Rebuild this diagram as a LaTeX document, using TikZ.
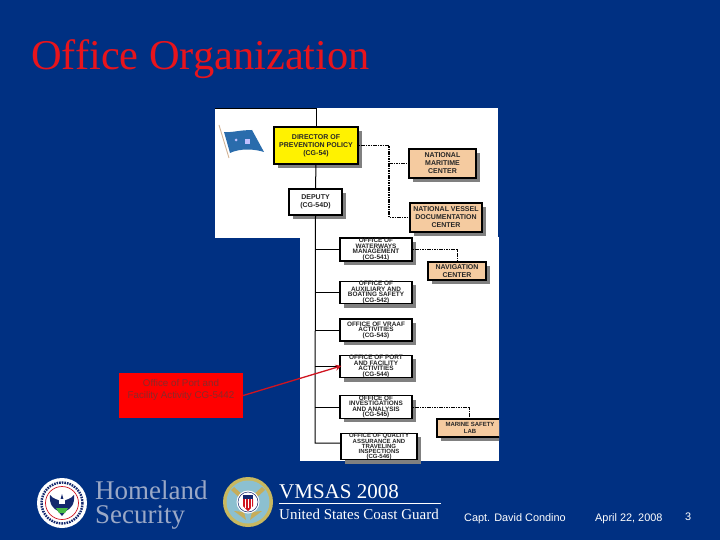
\documentclass[tikz,border=0pt]{standalone}
\usepackage{fontspec}
\setmainfont{Liberation Serif}
\setsansfont{Liberation Sans}
\usetikzlibrary{shadows,arrows.meta}
\definecolor{bgblue}{HTML}{003082}
\definecolor{tanbox}{HTML}{F5CBA0}
\definecolor{titlered}{HTML}{E8141C}
\definecolor{hsgrey}{HTML}{9AA8C6}
\definecolor{darkred}{HTML}{D01420}
\definecolor{seal}{HTML}{14286E}
\definecolor{calltext}{HTML}{8A2A2A}
\definecolor{flagblue}{HTML}{2A6CAC}
\definecolor{gold}{HTML}{C8B860}
\definecolor{cgblue}{HTML}{8CC0D0}
\tikzset{
  orgbox/.style={draw=black,line width=1.1pt,fill=white,align=center,inner sep=0pt,
    font=\sffamily\bfseries\fontsize{6.4}{5.5}\selectfont,text=black!85,
    drop shadow={shadow xshift=4pt,shadow yshift=-4pt,fill=black!50,opacity=1}},
  bigbox/.style={orgbox,font=\sffamily\bfseries\fontsize{7}{8}\selectfont},
  tan/.style={bigbox,fill=tanbox},
  solidline/.style={draw=black,line width=1pt},
  dotline/.style={draw=black,line width=1.3pt,dash pattern=on 1.6pt off 0.8pt},
  thinDot/.style={draw=black,line width=.8pt,dash pattern=on 1.6pt off 0.8pt},
  footer/.style={anchor=base west,inner sep=0pt,text=white},
  sfoot/.style={footer,font=\sffamily\fontsize{10.9}{12}\selectfont},
}
\begin{document}
\begin{tikzpicture}[x=1pt,y=-1pt]
\fill[bgblue] (0,0) rectangle (720,540);
\useasboundingbox (0,0) rectangle (720,540);
% white image panels
\fill[white] (215,108) rectangle (498,238);
\fill[white] (300,237) rectangle (499,461);
% title
\node[anchor=base west,inner sep=0pt,text=titlered,font=\fontsize{42.4}{42}\selectfont] (title) at (31,70) {Office Organization};
% flag
\draw[draw=tanbox!70!gray,line width=.9pt] (219,125) -- (229,158);
\fill[flagblue] (224,132) .. controls (230,133) and (240,130) .. (252,130) -- (264,152) .. controls (255,149) and (240,148) .. (230,153) -- cycle;
\fill[white!75!blue] (245,139) rectangle (250,144);
\fill[white!75!blue] (236,140) circle (1.5);
% nodes: top chart
\coordinate (topleft) at (215,109);
\coordinate (topjoin) at (316,109);
\node[bigbox,fill=yellow,minimum width=84pt,minimum height=37pt] (director) at (316,145.5) {DIRECTOR OF\\PREVENTION POLICY\\(CG-54)};
\node[bigbox,minimum width=53pt,minimum height=26pt] (deputy) at (315.5,202) {DEPUTY\\(CG-54D)};
\node[tan,minimum width=67pt,minimum height=29pt] (nmc) at (442.5,163.5) {NATIONAL\\MARITIME\\CENTER};
\node[tan,minimum width=72pt,minimum height=29pt] (nvdc) at (446,217.5) {NATIONAL VESSEL\\DOCUMENTATION\\CENTER};
% lower chart
\node[orgbox,minimum width=72pt,minimum height=23pt] (water) at (376,249.5) {OFFICE OF\\WATERWAYS\\MANAGEMENT\\(CG-541)};
\node[tan,minimum width=58pt,minimum height=18pt] (nav) at (457,271) {NAVIGATION\\CENTER};
\node[orgbox,minimum width=72pt,minimum height=21pt] (aux) at (376,292.5) {OFFICE OF\\AUXILIARY AND\\BOATING SAFETY\\(CG-542)};
\node[orgbox,minimum width=72pt,minimum height=22pt] (vpaaf) at (376,330) {OFFICE OF VRAAF\\ACTIVITIES\\(CG-543)};
\node[orgbox,minimum width=72pt,minimum height=21pt] (port) at (376,366.5) {OFFICE OF PORT\\AND FACILITY\\ACTIVITIES\\(CG-544)};
\node[orgbox,minimum width=72pt,minimum height=22pt] (inv) at (376,407) {OFFICE OF\\INVESTIGATIONS\\AND ANALYSIS\\(CG-545)};
\node[orgbox,minimum width=76pt,minimum height=25pt,font=\sffamily\bfseries\fontsize{6}{4.8}\selectfont] (qual) at (379,446.5) {OFFICE OF QUALITY\\ASSURANCE AND\\TRAVELING\\INSPECTIONS\\(CG-546)};
\begin{scope}
\clip (0,0) rectangle (499,540);
\node[tan,minimum width=66pt,minimum height=18pt,font=\sffamily\bfseries\fontsize{6}{6.2}\selectfont] (lab) at (470,428) {MARINE SAFETY\\LAB};
\end{scope}
% solid connectors
\coordinate (spineend) at (315,443);
\draw[solidline] (topleft) -- (topjoin) -- (director.north);
\draw[solidline] (director.south) -- (deputy.north);
\draw[solidline] (deputy.south) -- (spineend) -- (qual.west |- spineend);
\foreach \n in {water,aux,vpaaf,port,inv}{\draw[solidline] (spineend |- \n.west) -- (\n.west);}
% dotted connectors
\coordinate (dotx) at (389,144);
\draw[dotline] (director.east) -- (dotx |- director.east) -- (dotx |- nvdc.west) -- (nvdc.west);
\draw[dotline] (dotx |- nmc.west) -- (nmc.west);
\draw[thinDot] (water.east) -- (nav.north |- water.east) -- (nav.north);
\coordinate (labx) at (469,406);
\draw[thinDot] (inv.east) -- (labx |- inv.east) -- (labx |- lab.north);
% red callout
\node[fill=red,minimum width=124pt,minimum height=45pt,inner sep=0pt] (callout) at (181,395.5) {};
\node[align=center,inner sep=0pt,text=calltext,font=\sffamily\fontsize{9.8}{11.6}\selectfont] (calltxt) at (181,390) {Office of Port and\\Facility Activity CG-5442};
\draw[darkred,line width=1.3pt,-{Stealth[length=6pt,width=6pt]},shorten >=-2pt] (callout.east) -- (port.west);
% DHS seal
\node[circle,fill=white,minimum size=50pt,inner sep=0pt] (dhs) at (62,503) {};
\draw[seal,line width=2.4pt,dash pattern=on 1.6pt off 1pt] (dhs) circle (20.5);
\draw[darkred,line width=.7pt] (dhs) circle (16.5);
\fill[seal] (50,495) .. controls (53,499) and (57,499) .. (60,501) -- (62,494) -- (64,501) .. controls (67,499) and (71,499) .. (74,495) .. controls (75,505) and (70,509) .. (66,511) -- (62,516) -- (58,511) .. controls (54,509) and (49,505) .. (50,495) -- cycle;
\fill[white] (59,499) rectangle (65,504);
\fill[green!45!gray] (56,508) -- (68,508) -- (65,513) -- (59,513) -- cycle;
\node[anchor=base west,inner sep=0pt,text=hsgrey,font=\fontsize{27}{27}\selectfont] (hs1) at (95,499) {Homeland};
\node[anchor=base west,inner sep=0pt,text=hsgrey,font=\fontsize{27}{27}\selectfont] (hs2) at (95,523) {Security};
% Coast Guard seal
\node[circle,fill=gold,minimum size=50pt,inner sep=0pt] (uscg) at (248,502) {};
\fill[cgblue] (uscg) circle (21.5);
\fill[gold!80!brown] (234,487) -- (245,497) -- (242,500) -- (231,490) -- cycle;
\fill[gold!80!brown] (262,487) -- (251,497) -- (254,500) -- (265,490) -- cycle;
\fill[gold!80!brown] (234,511) -- (244,512) -- (246,520) -- cycle;
\fill[gold!80!brown] (262,511) -- (252,512) -- (250,520) -- cycle;
\fill[white] (uscg) circle (11.5);
\draw[seal,line width=.5pt] (uscg) circle (10);
\fill[seal] (243,495) rectangle (253,499);
\fill[darkred] (243,499) -- (253,499) -- (253,506) -- (248,511) -- (243,506) -- cycle;
\foreach \sx in {245,248,251}{\fill[white] (\sx-.5,499) rectangle (\sx+.5,508);}
% footer text
\node[footer,font=\fontsize{21}{21}\selectfont] (vmsas) at (279,498) {VMSAS 2008};
\coordinate (ruleL) at (279,503);
\coordinate (ruleR) at (441,503);
\draw[white,line width=.5pt] (ruleL) -- (ruleR);
\node[footer,font=\fontsize{15}{15}\selectfont] (uscgt) at (279,519) {United States Coast Guard};
\node[sfoot] (capt) at (464,521) {Capt. David Condino};
\node[sfoot] (date) at (595,521) {April 22, 2008};
\node[sfoot] (num) at (685,520) {3};
\end{tikzpicture}
\end{document}
